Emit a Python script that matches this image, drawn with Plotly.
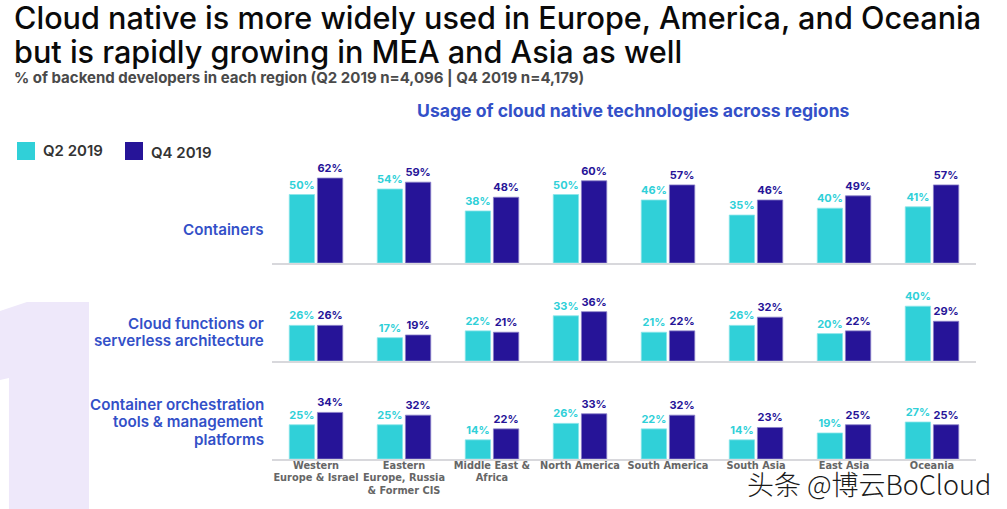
import plotly.graph_objects as go
from plotly.subplots import make_subplots

# Figure size in pixels
WIDTH = 1007
HEIGHT = 509
PX_PER_PCT = 1.37
FONT = "Inter"

regions = [
    "Western<br>Europe & Israel",
    "Eastern<br>Europe, Russia<br>& Former CIS",
    "Middle East &<br>Africa",
    "North America",
    "South America",
    "South Asia",
    "East Asia",
    "Oceania",
]

containers_q2 = [50, 54, 38, 50, 46, 35, 40, 41]
containers_q4 = [62, 59, 48, 60, 57, 46, 49, 57]
functions_q2 = [26, 17, 22, 33, 21, 26, 20, 40]
functions_q4 = [26, 19, 21, 36, 22, 32, 22, 29]
orchestration_q2 = [25, 25, 14, 26, 22, 14, 19, 27]
orchestration_q4 = [34, 32, 22, 33, 32, 23, 25, 25]

TEAL = "#30d0d8"
NAVY = "#261498"
BLUE = "#3350c8"

# (baseline y in px, panel height in px) for each row
panels = [(263, 105), (361, 72), (459, 72)]
row_data = [
    (containers_q2, containers_q4),
    (functions_q2, functions_q4),
    (orchestration_q2, orchestration_q4),
]


def px_x(x):
    return x / WIDTH


def px_y(y):
    return 1 - y / HEIGHT


fig = make_subplots(rows=3, cols=1, shared_xaxes=True)

for row, (q2, q4) in enumerate(row_data, start=1):
    for name, values, color, edge in [
        ("Q2 2019", q2, TEAL, "#8ce6ea"),
        ("Q4 2019", q4, NAVY, "#8a80c8"),
    ]:
        fig.add_trace(
            go.Bar(
                x=list(range(len(regions))),
                y=values,
                name=name,
                marker=dict(color=color, line=dict(color=edge, width=0.8)),
                text=[f"{v}%" for v in values],
                textposition="outside",
                textangle=0,
                constraintext="none",
                cliponaxis=False,
                textfont=dict(family=FONT, size=11, color=color, weight=700),
                showlegend=False,
            ),
            row=row,
            col=1,
        )
    baseline, height = panels[row - 1]
    fig.update_yaxes(
        domain=[px_y(baseline), px_y(baseline - height)],
        range=[0, height / PX_PER_PCT],
        visible=False,
        row=row,
        col=1,
    )
    fig.update_xaxes(
        domain=[px_x(272), px_x(976)],
        range=[-0.5, 7.5],
        showline=True,
        linecolor="#d8d8dc",
        linewidth=1.5,
        showgrid=False,
        zeroline=False,
        ticks="",
        tickmode="array",
        tickvals=list(range(len(regions))),
        ticktext=regions,
        showticklabels=row == 3,
        ticklabelstandoff=-4,
        tickfont=dict(family="DejaVu Sans", size=9.8, color="#666666", weight=700),
        row=row,
        col=1,
    )


def add_text(x, y, text, size, color, anchor="left", weight=600, family=FONT, **kwargs):
    fig.add_annotation(
        xref="paper",
        yref="paper",
        x=px_x(x),
        y=px_y(y),
        text=text,
        showarrow=False,
        xanchor=anchor,
        yanchor="middle",
        align=anchor,
        font=dict(family=family, size=size, color=color, weight=weight, **kwargs),
    )


add_text(12, 17, "Cloud native is more widely used in Europe, America, and Oceania", 30.6, "#0a0a0a", weight=500)
add_text(12, 52, "but is rapidly growing in MEA and Asia as well", 30.6, "#0a0a0a", weight=500)
add_text(12, 77, "% of backend developers in each region (Q2 2019 n=4,096 | Q4 2019 n=4,179)", 15, "#4a4a4a", weight=700)
add_text(633.5, 110, "Usage of cloud native technologies across regions", 17.6, BLUE, anchor="center", weight=700)

add_text(266, 229, "Containers", 15.2, BLUE, anchor="right")
add_text(266, 323, "Cloud functions or", 15.2, BLUE, anchor="right")
add_text(266, 340, "serverless architecture", 15.2, BLUE, anchor="right")
add_text(266, 404, "Container orchestration", 15.2, BLUE, anchor="right")
add_text(266, 421, "tools & management", 15.2, BLUE, anchor="right")
add_text(266, 439, "platforms", 15.2, BLUE, anchor="right")

# Legend swatches and labels
add_text(41, 151, "Q2 2019", 15, "#333333")
add_text(149, 152, "Q4 2019", 15, "#333333")
for x0, y0, color in [(17, 142, TEAL), (125, 142, NAVY)]:
    fig.add_shape(
        type="rect", xref="paper", yref="paper",
        x0=px_x(x0), x1=px_x(x0 + 18), y0=px_y(y0), y1=px_y(y0 + 18),
        fillcolor=color, line_width=0,
    )

# Pale "1" behind the chart
outline = [(0, 311), (27, 302), (89, 302), (89, 509), (9, 509), (9, 378), (0, 380)]
path = "M" + " L".join(f"{px_x(x):.4f},{px_y(y):.4f}" for x, y in outline) + " Z"
fig.add_shape(type="path", xref="paper", yref="paper", path=path,
              fillcolor="#eee8fa", line_width=0, layer="below")

# Watermark
add_text(993, 483, "头条 @博云BoCloud", 27, "#1a1a1a", anchor="right", weight=300,
         family="Noto Sans CJK SC", shadow="1px 1px 1px #ffffff")

fig.update_layout(
    width=WIDTH,
    height=HEIGHT,
    margin=dict(l=0, r=0, t=0, b=0),
    barmode="group",
    bargap=0.36,
    bargroupgap=0.1,
    plot_bgcolor="white",
    paper_bgcolor="white",
    font=dict(family=FONT),
)

# Drop the default page margin so the figure sits at the window corner
fig.write_html(
    "out.html",
    config={"displayModeBar": False},
    post_script="document.body.style.margin = '0';",
)
